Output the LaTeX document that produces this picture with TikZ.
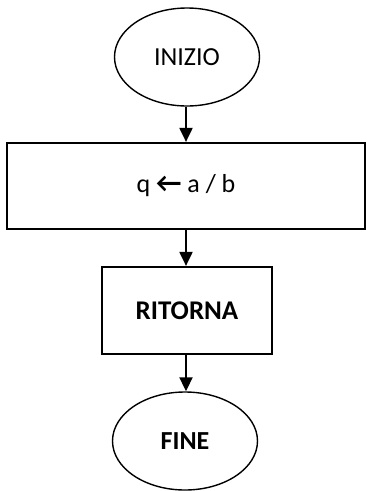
\documentclass[tikz,border=0pt]{standalone}
\usepackage{fontspec}
\setmainfont{Carlito}
\usetikzlibrary{shapes.geometric,arrows.meta}
\tikzset{
  term/.style={ellipse, draw, line width=1.4pt, minimum width=145pt, minimum height=98pt, inner sep=0pt, font=\fontsize{26}{30}\selectfont},
  procbox/.style={rectangle, draw, line width=2.2pt, inner sep=0pt, font=\fontsize{26}{30}\selectfont},
  flow/.style={line width=2pt, -{Triangle[length=14pt, width=13pt]}}
}
\begin{document}
\begin{tikzpicture}[x=1pt, y=-1pt]
\useasboundingbox (0,0) rectangle (367,491);
\node[term] (start) at (187,57) {INIZIO};
\node[procbox, minimum width=358pt, minimum height=86pt] (assign) at (186,186) {q {\fontsize{28}{30}\selectfont\bfseries ←} a / b};
\node[procbox, minimum width=170pt, minimum height=87pt, font=\fontsize{27}{30}\selectfont\bfseries] (ret) at (187,310.5) {RITORNA};
\node[term, font=\fontsize{26}{30}\selectfont\bfseries] (end) at (185,441) {FINE};
\draw[flow] (start.south -| 186,0) -- (assign.north -| 186,0);
\draw[flow] (assign.south -| 186,0) -- (ret.north -| 186,0);
\draw[flow] (ret.south -| 186,0) -- (end.north -| 186,0);
\end{tikzpicture}
\end{document}
